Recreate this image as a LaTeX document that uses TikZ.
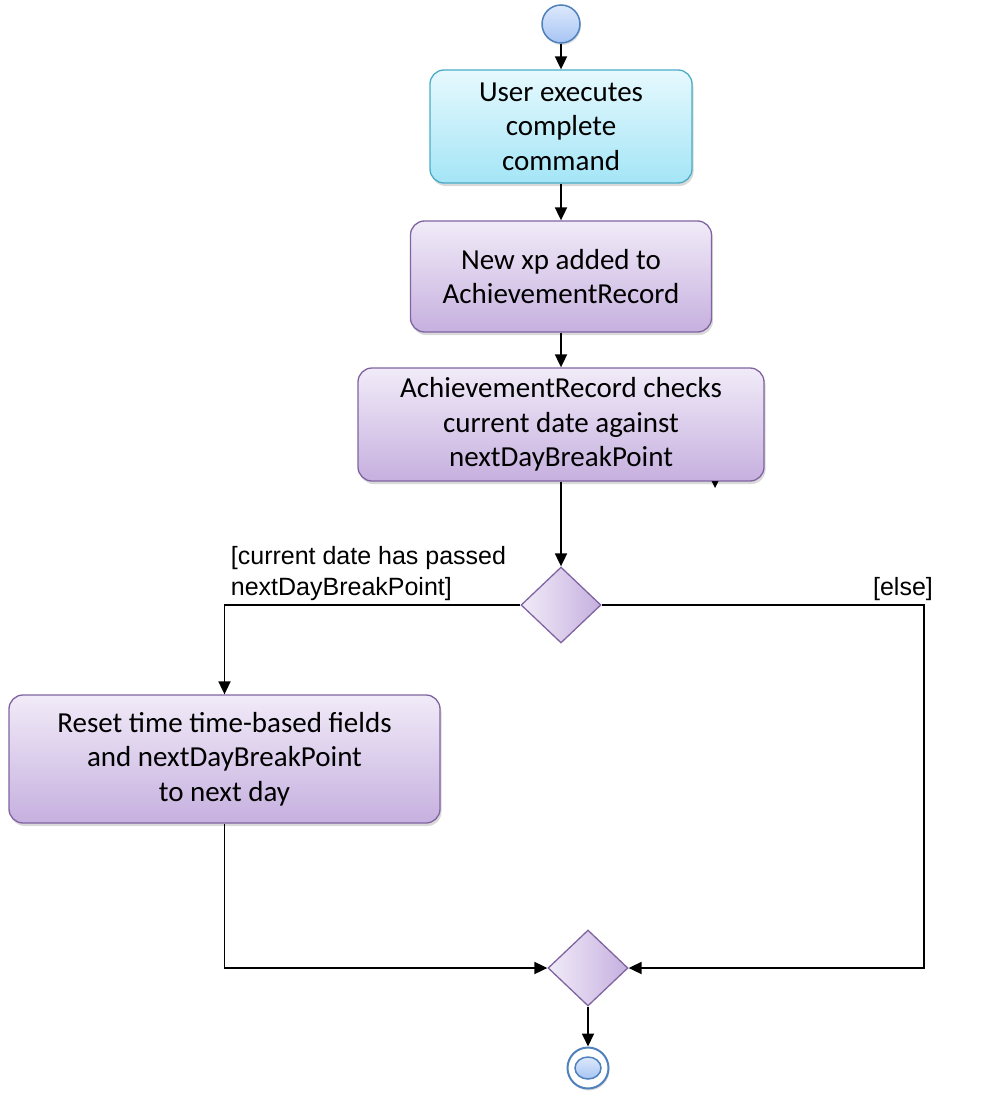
\documentclass[tikz,border=0pt]{standalone}
\usepackage{fontspec}
\setmainfont{Carlito}
\newfontfamily\guardfont{Liberation Sans}
\usetikzlibrary{arrows.meta, positioning, shadows, shapes.geometric}

\definecolor{actline}{HTML}{8064A2}
\definecolor{acttop}{HTML}{F1EBF8}
\definecolor{actbot}{HTML}{C6B0DF}
\definecolor{cmdline}{HTML}{4BACC6}
\definecolor{cmdtop}{HTML}{E6F9FE}
\definecolor{cmdbot}{HTML}{A4E5F6}
\definecolor{dotline}{HTML}{4F81BD}
\definecolor{dottop}{HTML}{DDE9FC}
\definecolor{dotbot}{HTML}{A6C4F3}

\tikzset{
	action/.style={rectangle, rounded corners=14pt, draw=actline, line width=1.3pt,
		top color=acttop, bottom color=actbot, align=center, inner sep=0pt,
		font=\fontsize{29}{34.5}\selectfont,
		drop shadow={shadow xshift=1.5pt, shadow yshift=-3pt, opacity=.3}},
	cmdaction/.style={action, draw=cmdline, top color=cmdtop, bottom color=cmdbot},
	decision/.style={diamond, draw=actline, line width=1.3pt, inner sep=0pt,
		minimum width=80pt, minimum height=76pt, left color=acttop, right color=actbot},
	initnode/.style={circle, draw=dotline, line width=1.5pt, minimum size=38pt,
		top color=dottop, bottom color=dotbot,
		drop shadow={shadow xshift=1pt, shadow yshift=-2pt, opacity=.25}},
	finalnode/.style={circle, draw=dotline, line width=2pt, fill=white, minimum size=41pt,
		drop shadow={shadow xshift=1pt, shadow yshift=-2pt, opacity=.25}},
	finalcore/.style={ellipse, draw=dotline, line width=1.5pt, minimum width=26pt,
		minimum height=22pt, top color=dottop, bottom color=dotbot},
	guard/.style={align=left, inner sep=0pt, font=\guardfont\fontsize{25}{31}\selectfont}
}

\begin{document}
\begin{tikzpicture}[x=1pt, y=-1pt, >={Triangle[length=13pt, width=12pt]}, line width=1.8pt]
	\useasboundingbox (0,0) rectangle (999,1097);
	
	\node (start) [initnode] at (561,24) {};
	\node (a1) [cmdaction, minimum width=262pt, minimum height=113pt] at (561,126.5) {User executes\\complete\\command};
	\node (a2) [action, minimum width=301pt, minimum height=111pt] at (561,276.5) {New xp added to\\AchievementRecord};
	\node (a3) [action, minimum width=406pt, minimum height=113pt] at (561,424.5) {AchievementRecord checks\\current date against\\nextDayBreakPoint};
	\node (d1) [decision] at (561,605) {};
	\node (a4) [action, minimum width=431pt, minimum height=128pt] at (224.5,759) {Reset time time-based fields\\and nextDayBreakPoint\\to next day};
	\node (d2) [decision] at (588,968) {};
	\node (end) [finalnode] at (588,1068) {};
	\node (endcore) [finalcore] at (end) {};
	\coordinate (rt) at (924,968);
	
	\node (g1) [guard, anchor=west] at (230,573.5) {[current date has passed\\nextDayBreakPoint]};
	\node (g2) [guard] at (903,589) {[else]};
	
	\path [->]
	(start) edge (a1)
	(a1) edge (a2)
	(a2) edge (a3)
	(a3) edge (d1);
	
	\draw [->] (d1.west) -| (a4.north);
	\draw [->] (d1.east) -| (rt) -- (d2.east);
	\draw [->] (a4.south) |- (d2.west);
	\draw [->] (d2) -- (end);
	
	% stray tip under the check box
	\fill (711.5,481) -- (718.5,481) -- (715,488) -- cycle;
	
\end{tikzpicture}
\end{document}
